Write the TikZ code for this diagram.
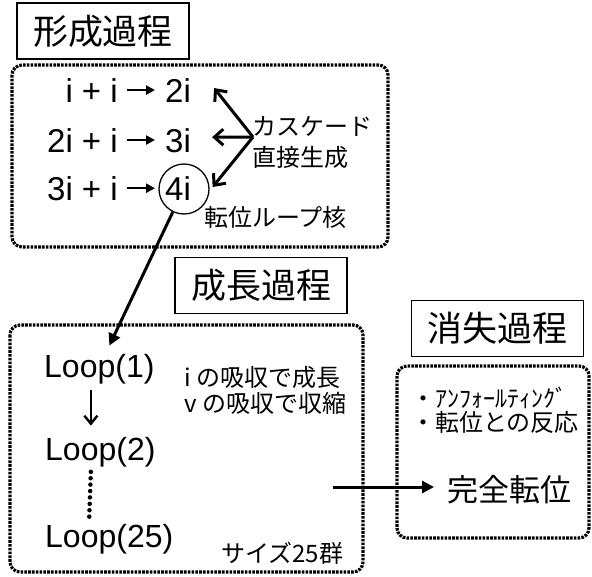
\documentclass[tikz,border=0pt]{standalone}
\usepackage{fontspec}
\setmainfont{Liberation Sans}
\newfontfamily\jp{Noto Sans CJK JP}
\usetikzlibrary{arrows.meta}
\begin{document}
\begin{tikzpicture}[x=1pt,y=-1pt,
  titlebox/.style={draw, line width=1.3pt, inner sep=0pt, minimum width=172pt, minimum height=56pt, font=\jp\fontsize{35}{40}\selectfont},
  dotbox/.style={line width=3.2pt, dash pattern=on 2.6pt off 1.2pt, rounded corners=10pt},
  eqtext/.style={inner sep=0pt, font=\fontsize{33}{38}\selectfont},
  looptext/.style={inner sep=0pt, font=\fontsize{32}{36}\selectfont},
  jtext/.style={inner sep=0pt, anchor=west, font=\jp\fontsize{24}{28}\selectfont},
  eqarrow/.style={line width=2.4pt, -{Triangle[length=9pt,width=9pt]}},
  openarrow/.style={line width=3pt, -{Straight Barb[length=9pt,width=16pt]}},
  fillarrow/.style={line width=3pt, -{Triangle[length=12pt,width=12pt]}}]
\useasboundingbox (0,0) rectangle (592,576);
\fill[white] (0,0) rectangle (592,576);

% titles
\node[titlebox] (t1) at (103,31) {形成過程};
\node[titlebox] (t2) at (261,285.5) {成長過程};
\node[titlebox] (t3) at (497.5,328.5) {消失過程};

% dotted boxes
\draw[dotbox] (12,65) rectangle (388,247);
\draw[dotbox] (10,325) rectangle (363,572);
\draw[dotbox] (397,366) rectangle (589,538);

% equations
\node[eqtext, anchor=base east] (a1) at (118,102) {i + i};
\node[eqtext, anchor=base west] (b1) at (165,102) {2i};
\node[eqtext, anchor=base east] (a2) at (118,152) {2i + i};
\node[eqtext, anchor=base west] (b2) at (165,152) {3i};
\node[eqtext, anchor=base east] (a3) at (118,200) {3i + i};
\node[eqtext, anchor=base west] (b3) at (165,200) {4i};
\draw[eqarrow, shorten <=9pt, shorten >=10pt] (a1.east) -- (a1.east -| b1.west);
\draw[eqarrow, shorten <=9pt, shorten >=10pt] (a2.east) -- (a2.east -| b2.west);
\draw[eqarrow, shorten <=9pt, shorten >=10pt] (a3.east) -- (a3.east -| b3.west);
\node[draw, circle, line width=1.3pt, minimum size=50pt, inner sep=0pt] (c4) at (184,189) {};

% cascade
\coordinate (cs) at (253,137);
\draw[openarrow] (cs) -- ([shift={(23pt,2pt)}]b1.east);
\draw[openarrow] (cs) -- ([shift={(21pt,3pt)}]b2.east);
\draw[openarrow] (cs) -- ([shift={(3pt,2pt)}]c4.east);
\node[jtext] (k1) at (252,127) {カスケード};
\node[jtext] (k2) at (252,157) {直接生成};
\node[jtext] (k3) at (204,217) {転位ループ核};

% growth
\node[looptext, anchor=base west] (l1) at (44,377) {Loop(1)};
\node[looptext, anchor=base west] (l2) at (45,460) {Loop(2)};
\node[looptext, anchor=base west] (l25) at (45,547) {Loop(25)};
\draw[fillarrow] (c4.244) -- ([shift={(10pt,8pt)}]l1.north);
\draw[line width=2.4pt, -{Straight Barb[length=8pt,width=13pt]}] ([shift={(-8.5pt,-6pt)}]l1.south) -- ([shift={(-9.5pt,11pt)}]l2.north);
\draw[line width=4.5pt, line cap=round, dash pattern=on 0pt off 6.4pt] ([shift={(-9.5pt,-5pt)}]l2.south) -- ([shift={(-20pt,6.6pt)}]l25.north);
\node[jtext] (g1) at (184,377) {i の吸収で成長};
\node[jtext] (g2) at (184,403) {v の吸収で収縮};
\node[jtext] (g3) at (221,553) {サイズ25群};

% disappearance
\node[jtext] (d1) at (411,398) {・ｱﾝﾌｫｰﾙﾃｨﾝｸﾞ};
\node[jtext] (d2) at (411,422) {・転位との反応};
\node[inner sep=0pt, anchor=west, font=\jp\fontsize{31}{36}\selectfont] (kz) at (447,490) {完全転位};
\coordinate (gs) at (333,487);
\draw[fillarrow, shorten >=13pt] (gs) -- (gs -| kz.west);
\end{tikzpicture}
\end{document}
